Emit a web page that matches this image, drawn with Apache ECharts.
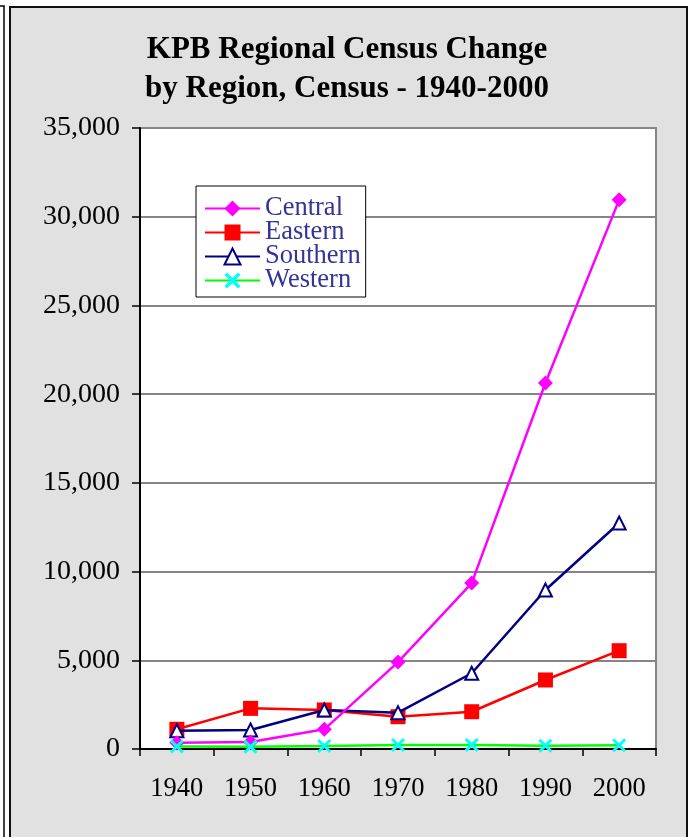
<!DOCTYPE html>
<html>
<head>
<meta charset="utf-8">
<style>
html,body{margin:0;padding:0;background:#ffffff;}
#chart{width:694px;height:837px;}
</style>
<script src="https://cdn.jsdelivr.net/npm/echarts@6/dist/echarts.min.js"></script>
</head>
<body>
<div id="chart"></div>
<script>
const years = ['1940','1950','1960','1970','1980','1990','2000'];
const central  = [350, 400, 1110, 4900, 9350, 20630, 30950];
const eastern  = [1110, 2290, 2200, 1820, 2100, 3890, 5540];
const southern = [1030, 1070, 2200, 2050, 4270, 8960, 12740];
const western  = [140, 120, 170, 225, 230, 190, 210];
const yTicks = {min: 0, max: 35000, interval: 5000};

const serif = '"Liberation Serif", "Times New Roman", serif';
const xPath = 'path://M0,1.5L1.5,0L5,3.5L8.5,0L10,1.5L6.5,5L10,8.5L8.5,10L5,6.5L1.5,10L0,8.5L3.5,5Z';

const chart = echarts.init(document.getElementById('chart'), null, {renderer: 'canvas'});
chart.setOption({
  animation: false,
  backgroundColor: '#ffffff',
  graphic: [
    {type: 'rect', z: -10, shape: {x: -5, y: 6, width: 9, height: 840}, style: {fill: '#ffffff', stroke: '#000', lineWidth: 1.5}},
    {type: 'rect', z: -10, shape: {x: 10, y: 7, width: 677, height: 840}, style: {fill: '#e1e1e1', stroke: '#111', lineWidth: 2}}
  ],
  title: {
    text: 'KPB Regional Census Change\nby Region, Census - 1940-2000',
    left: 'center',
    top: 30,
    padding: 0,
    textStyle: {fontFamily: serif, fontWeight: 'bold', fontSize: 31, lineHeight: 39, color: '#000'}
  },
  legend: {
    orient: 'vertical',
    left: 196,
    top: 186,
    padding: [9, 5, 3, 8],
    backgroundColor: '#ffffff',
    borderColor: '#000',
    borderWidth: 1,
    itemWidth: 55,
    itemHeight: 20,
    itemGap: -3,
    textStyle: {fontFamily: serif, fontSize: 26.5, color: '#333399'},
    data: ['Central', 'Eastern', 'Southern', 'Western']
  },
  grid: {
    left: 140, right: 38, top: 128, bottom: 88,
    show: true, backgroundColor: '#ffffff', borderColor: '#858585', borderWidth: 2
  },
  xAxis: {
    type: 'category',
    data: years,
    boundaryGap: true,
    axisLine: {lineStyle: {color: '#000', width: 2}},
    axisTick: {show: true, length: 7, lineStyle: {color: '#000', width: 1.5}},
    axisLabel: {fontFamily: serif, fontSize: 26.5, color: '#000', margin: 27}
  },
  yAxis: {
    type: 'value',
    min: yTicks.min, max: yTicks.max, interval: yTicks.interval,
    axisLine: {show: true, lineStyle: {color: '#000', width: 2}},
    axisTick: {show: true, length: 8, lineStyle: {color: '#000', width: 1.5}},
    splitLine: {lineStyle: {color: '#858585', width: 2}},
    axisLabel: {fontFamily: serif, fontSize: 28, color: '#000', margin: 20,
      formatter: v => v.toLocaleString('en-US')}
  },
  series: [
    {name: 'Central', type: 'line', data: central, symbol: 'diamond', symbolSize: 15,
     lineStyle: {color: '#ff00ff', width: 2.5}, itemStyle: {color: '#ff00ff'}, z: 5},
    {name: 'Eastern', type: 'line', data: eastern, symbol: 'rect', symbolSize: 15,
     lineStyle: {color: '#ff0000', width: 2.5}, itemStyle: {color: '#ff0000'}, z: 3},
    {name: 'Southern', type: 'line', data: southern, symbol: 'emptyTriangle', symbolSize: 13,
     lineStyle: {color: '#000080', width: 2.5}, itemStyle: {color: '#000080', borderColor: '#000080', borderWidth: 2.5}, z: 4},
    {name: 'Western', type: 'line', data: western, symbol: xPath, symbolSize: 14,
     lineStyle: {color: '#00ff00', width: 2.5}, itemStyle: {color: '#00ffff'}, z: 6}
  ]
});
</script>
</body>
</html>
